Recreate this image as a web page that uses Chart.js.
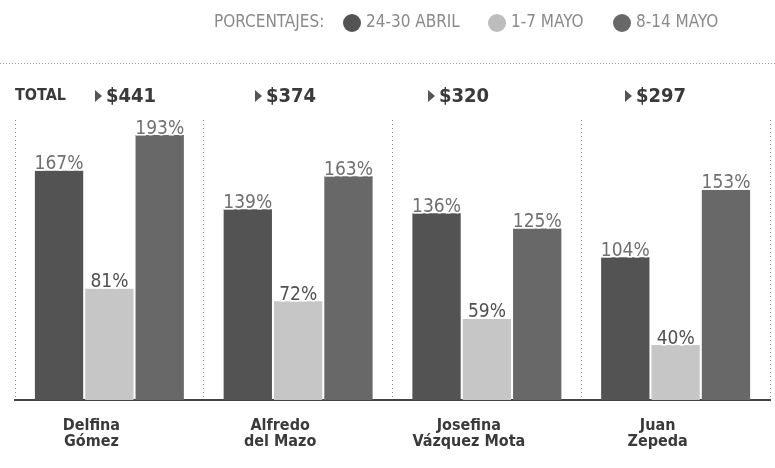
<!DOCTYPE html>
<html>
<head>
<meta charset="utf-8">
<script src="https://cdn.jsdelivr.net/npm/chart.js@4/dist/chart.umd.min.js"></script>
<style>
  html, body { margin: 0; padding: 0; background: #ffffff; }
  #wrap { width: 775px; height: 468px; position: relative; }
</style>
</head>
<body>
<div id="wrap"><canvas id="gastoChart"></canvas></div>
<script>
// Candidatos y porcentajes por semana

const candidatos = [["Delfina", "Gómez"], ["Alfredo", "del Mazo"], ["Josefina", "Vázquez Mota"], ["Juan", "Zepeda"]];
const totales = ["$441", "$374", "$320", "$297"];
const semanas = ["24-30 ABRIL", "1-7 MAYO", "8-14 MAYO"];
const abril24_30 = [167, 139, 136, 104];
const mayo1_7 = [81, 72, 59, 40];
const mayo8_14 = [193, 163, 125, 153];
const colores = ["#535353", "#c6c6c6", "#686868"];

const condensed = "'Liberation Sans Narrow', 'DejaVu Sans Condensed', 'Roboto', sans-serif";

// Leyenda, totales y etiquetas de valor
const extras = {
    id: "extras",
    afterDatasetsDraw(chart) {
        const ctx = chart.ctx;
        ctx.save();

        // linea punteada superior
        ctx.strokeStyle = "#9a9a9a";
        ctx.lineWidth = 1;
        ctx.setLineDash([1, 2]);
        ctx.beginPath();
        ctx.moveTo(0, 63.5);
        ctx.lineTo(775, 63.5);
        ctx.stroke();
        ctx.setLineDash([]);

        // leyenda
        ctx.textBaseline = "middle";
        ctx.textAlign = "left";
        ctx.font = "17px " + condensed;
        ctx.fillStyle = "#8a8a8a";
        ctx.fillText("PORCENTAJES:", 214, 23);
        const legendX = [352, 497, 622];
        semanas.forEach((s, i) => {
            ctx.fillStyle = colores[i] === "#c6c6c6" ? "#bdbdbd" : colores[i];
            ctx.beginPath();
            ctx.arc(legendX[i], 23, 9, 0, Math.PI * 2);
            ctx.fill();
            ctx.fillStyle = "#8a8a8a";
            ctx.fillText(s, legendX[i] + 14, 23);
        });

        // totales
        ctx.fillStyle = "#3a3a3a";
        ctx.font = "bold 16px " + condensed;
        ctx.fillText("TOTAL", 15, 96);
        const totalX = [95, 255, 428, 625];
        totales.forEach((t, i) => {
            const x0 = totalX[i];
            ctx.fillStyle = "#555";
            ctx.beginPath();
            ctx.moveTo(x0, 90);
            ctx.lineTo(x0 + 7, 96);
            ctx.lineTo(x0, 102);
            ctx.closePath();
            ctx.fill();
            ctx.fillStyle = "#3a3a3a";
            ctx.font = "bold 20px " + condensed;
            ctx.fillText(t, x0 + 11, 97);
        });

        // etiquetas de porcentaje
        ctx.textAlign = "center";
        ctx.textBaseline = "bottom";
        ctx.font = "19px " + condensed;
        ctx.lineWidth = 3;
        ctx.strokeStyle = "#ffffff";
        chart.data.datasets.forEach((ds, di) => {
            chart.getDatasetMeta(di).data.forEach((bar, i) => {
                const txt = ds.data[i] + "%";
                ctx.strokeText(txt, bar.x, bar.y + 3);
                ctx.fillStyle = di === 1 ? "#505050" : "#707070";
                ctx.fillText(txt, bar.x, bar.y + 3);
            });
        });
        ctx.restore();
    }
};

new Chart(document.getElementById("gastoChart"), {
    type: "bar",

    data: {
        labels: candidatos,
        datasets: [
            { label: semanas[0], data: abril24_30, backgroundColor: colores[0] },
            { label: semanas[1], data: mayo1_7, backgroundColor: colores[1] },
            { label: semanas[2], data: mayo8_14, backgroundColor: colores[2] }
        ]
    },

    options: {
        responsive: true,
        maintainAspectRatio: false,
        animation: false,
        categoryPercentage: 0.8,
        barPercentage: 0.96,
        layout: {
            padding: { top: 120, left: 15, right: 5, bottom: 0 }
        },
        scales: {
            x: {
                grid: {
                    display: true,
                    drawTicks: false,
                    color: "#8a8a8a",
                    lineWidth: 1
                },
                border: { display: true, color: "#444", width: 2, dash: [1, 3] },
                ticks: {
                    color: "#3a3a3a",
                    font: { family: condensed, size: 16, weight: "bold", lineHeight: 1.0 },
                    padding: 18,
                    labelOffset: -18,
                    maxRotation: 0
                }
            },
            y: {
                display: false,
                min: 0,
                max: 204
            }
        },
        plugins: {
            legend: { display: false },
            tooltip: { enabled: false }
        }
    },

    plugins: [extras]
});
</script>
</body>
</html>
